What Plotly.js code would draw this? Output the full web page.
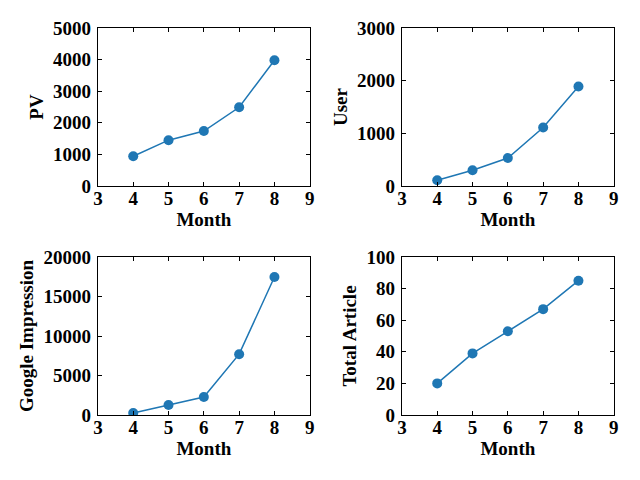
<!DOCTYPE html>
<html>
<head>
<script src="https://cdn.plot.ly/plotly-3.0.1.min.js"></script>
<style>html,body{margin:0;padding:0;background:#fff;}</style>
</head>
<body>
<div id="chart" style="width:640px;height:480px;"></div>
<script>
const months = [4, 5, 6, 7, 8];
const pv = [940, 1450, 1740, 2490, 3980];
const users = [110, 300, 530, 1110, 1890];
const googleImpression = [250, 1270, 2280, 7700, 17470];
const totalArticle = [20, 39, 53, 67, 85];
const xTitle = 'Month';
const yTitles = ['PV', 'User', 'Google Impression', 'Total Article'];

const color = '#1f77b4';
const fontFam = 'Liberation Serif, Times New Roman, serif';
const tickFont = {family: fontFam, size: 19, color: '#000', weight: 'bold'};
const titleFont = {family: fontFam, size: 19, color: '#000', weight: 'bold'};

function tr(y, xa, ya) {
  return {x: months, y: y, xaxis: xa, yaxis: ya, type: 'scatter', mode: 'lines+markers',
    line: {color: color, width: 1.5}, marker: {color: color, size: 10}, showlegend: false};
}
const data = [
  tr(pv, 'x', 'y'),
  tr(users, 'x2', 'y2'),
  tr(googleImpression, 'x3', 'y3'),
  tr(totalArticle, 'x4', 'y4')
];

function xa(domain, anchor) {
  return {domain: domain, anchor: anchor, range: [3, 9], dtick: 1, tick0: 3,
    showgrid: false, zeroline: false, showline: true, linecolor: '#000', linewidth: 1,
    mirror: 'ticks', ticks: 'inside', ticklen: 4, tickcolor: '#000', ticklabelstandoff: -5,
    tickfont: tickFont, title: {text: xTitle, font: titleFont, standoff: 0}};
}
function ya(domain, anchor, range, dtick, title) {
  return {domain: domain, anchor: anchor, range: range, dtick: dtick, tickformat: 'd',
    showgrid: false, zeroline: false, showline: true, linecolor: '#000', linewidth: 1,
    mirror: 'ticks', ticks: 'inside', ticklen: 4, tickcolor: '#000', ticklabelstandoff: 2,
    tickfont: tickFont, title: {text: title, font: titleFont, standoff: 4}};
}
const colL = [0.153, 0.484], colR = [0.628, 0.959];
const rowT = [0.6125, 0.9417], rowB = [0.1354, 0.4646];
const layout = {
  width: 640, height: 480,
  margin: {l: 0, r: 0, t: 0, b: 0},
  paper_bgcolor: '#fff', plot_bgcolor: '#fff',
  showlegend: false,
  xaxis: xa(colL, 'y'),
  yaxis: ya(rowT, 'x', [0, 5000], 1000, yTitles[0]),
  xaxis2: xa(colR, 'y2'),
  yaxis2: ya(rowT, 'x2', [0, 3000], 1000, yTitles[1]),
  xaxis3: xa(colL, 'y3'),
  yaxis3: ya(rowB, 'x3', [0, 20000], 5000, yTitles[2]),
  xaxis4: xa(colR, 'y4'),
  yaxis4: ya(rowB, 'x4', [0, 100], 20, yTitles[3])
};
Plotly.newPlot('chart', data, layout, {displayModeBar: false, staticPlot: true});
</script>
</body>
</html>
